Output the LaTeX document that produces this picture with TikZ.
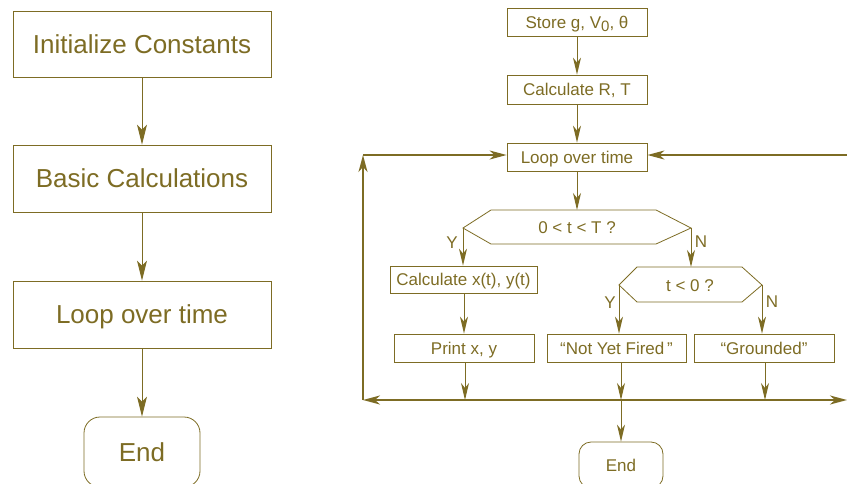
\documentclass[tikz,border=0pt]{standalone}
\usepackage{fontspec}
\setmainfont{Liberation Sans}
\usetikzlibrary{arrows.meta}
\definecolor{olive}{RGB}{125,108,36}
\begin{document}
\begin{tikzpicture}[x=1pt,y=-1pt,
  every node/.style={text=olive},
  bigbox/.style={draw=olive,line width=0.8pt,minimum width=258pt,minimum height=66pt,font=\fontsize{26}{28}\selectfont,inner sep=0pt,text height=18.6pt,text depth=0pt},
  bigend/.style={draw=olive,line width=0.8pt,rounded corners=16pt,minimum width=116pt,minimum height=70pt,font=\fontsize{26}{28}\selectfont,inner sep=0pt,text height=18.6pt,text depth=0pt},
  smallbox/.style={draw=olive,line width=0.8pt,minimum height=28pt,font=\fontsize{17}{19}\selectfont,inner sep=0pt,text height=12.2pt,text depth=0pt},
  smalltxt/.style={font=\fontsize{17}{19}\selectfont,inner sep=0pt,text height=12.2pt,text depth=0pt},
  bigarr/.style={draw=olive,line width=1pt,-{Stealth[length=20pt,width=10pt,inset=5pt]}},
  arr/.style={draw=olive,line width=1pt,-{Stealth[length=17pt,width=8pt,inset=5pt]}},
  loopln/.style={draw=olive,line width=2pt,>={Stealth[length=17pt,width=9pt,inset=5pt]}},
  hexline/.style={draw=olive,line width=0.8pt}]
\useasboundingbox (0,0) rectangle (847,483);
% left chart
\node[bigbox] (init) at (142,44) {Initialize Constants};
\node[bigbox,minimum height=67pt] (basic) at (142,178.5) {Basic Calculations};
\node[bigbox,minimum height=67pt] (loopL) at (142,314.5) {Loop over time};
\node[bigend] (endL) at (142,452) {End};
\draw[bigarr] (init) -- (basic);
\draw[bigarr] (basic) -- (loopL);
\draw[bigarr] (loopL) -- (endL);
% right chart
\node[smallbox,minimum width=140pt] (store) at (577,22) {Store g, V\raisebox{-3pt}{\fontsize{15}{17}\selectfont 0}, θ};
\node[smallbox,minimum width=140pt,minimum height=29pt] (calcRT) at (577,89.5) {Calculate R, T};
\node[smallbox,minimum width=140pt] (loopR) at (577,157) {Loop over time};
% hexagon 1
\coordinate (h1l) at (463,228);
\coordinate (h1a) at (491,210);
\coordinate (h1b) at (656,210);
\coordinate (h1r) at (691,228);
\coordinate (h1c) at (656,244);
\coordinate (h1d) at (491,244);
\coordinate (h1t) at (577,210);
\draw[hexline] (h1l) -- (h1a) -- (h1b) -- (h1r) -- (h1c) -- (h1d) -- cycle;
\node[smalltxt] (q1) at (577,227) {0 < t < T ?};
% hexagon 2
\coordinate (h2l) at (619,285);
\coordinate (h2a) at (637,267);
\coordinate (h2b) at (742,267);
\coordinate (h2r) at (762,285);
\coordinate (h2c) at (742,302);
\coordinate (h2d) at (637,302);
\coordinate (h2t) at (691,267);
\draw[hexline] (h2l) -- (h2a) -- (h2b) -- (h2r) -- (h2c) -- (h2d) -- cycle;
\node[smalltxt] (q2) at (690,285) {t < 0 ?};
% boxes
\node[smallbox,minimum width=147pt,minimum height=27pt] (calcXY) at (463.5,279.5) {Calculate x(t), y(t)};
\node[smallbox,minimum width=140pt] (print) at (464,348) {Print x, y};
\node[smallbox,minimum width=139pt] (nyf) at (616.5,348) {“Not Yet Fired\,”};
\node[smallbox,minimum width=140pt] (grd) at (764,348) {“Grounded”};
\node[smallbox,rounded corners=12pt,minimum width=84pt,minimum height=46pt] (endR) at (621,465) {End};
% labels
\node[smalltxt] (ly1) at (452,242) {Y};
\node[smalltxt] (ln1) at (701,241) {N};
\node[smalltxt] (ly2) at (610,302) {Y};
\node[smalltxt] (ln2) at (772,301) {N};
% arrows
\draw[arr] (store) -- (calcRT);
\draw[arr] (calcRT) -- (loopR);
\draw[arr] (loopR) -- (h1t);
\draw[arr] (h1l) -- (h1l |- calcXY.north);
\draw[arr] (h1r) -- (h2t);
\draw[arr] (calcXY.south -| print) -- (print);
\draw[arr] (h2l) -- (h2l |- nyf.north);
\draw[arr] (h2r) -- (h2r |- grd.north);
% loop lines
\coordinate (bl) at (363,400);
\coordinate (br) at (847,400);
\coordinate (tl) at (363,155);
\coordinate (tr) at (847,155);
\coordinate (bp) at (465,400);
\coordinate (bn) at (621,400);
\coordinate (bg) at (765,400);
\draw[arr] (print.south -| bp) -- (bp);
\draw[arr] (nyf.south -| bn) -- (bn);
\draw[arr] (grd.south -| bg) -- (bg);
\draw[arr] (bn) -- (endR);
\draw[loopln,<->] (bl) -- (br);
\draw[loopln,->] (bl) -- (tl);
\draw[loopln,->] (tl) -- (loopR.west |- tl);
\draw[loopln,->] (tr) -- (loopR.east |- tr);
\end{tikzpicture}
\end{document}
